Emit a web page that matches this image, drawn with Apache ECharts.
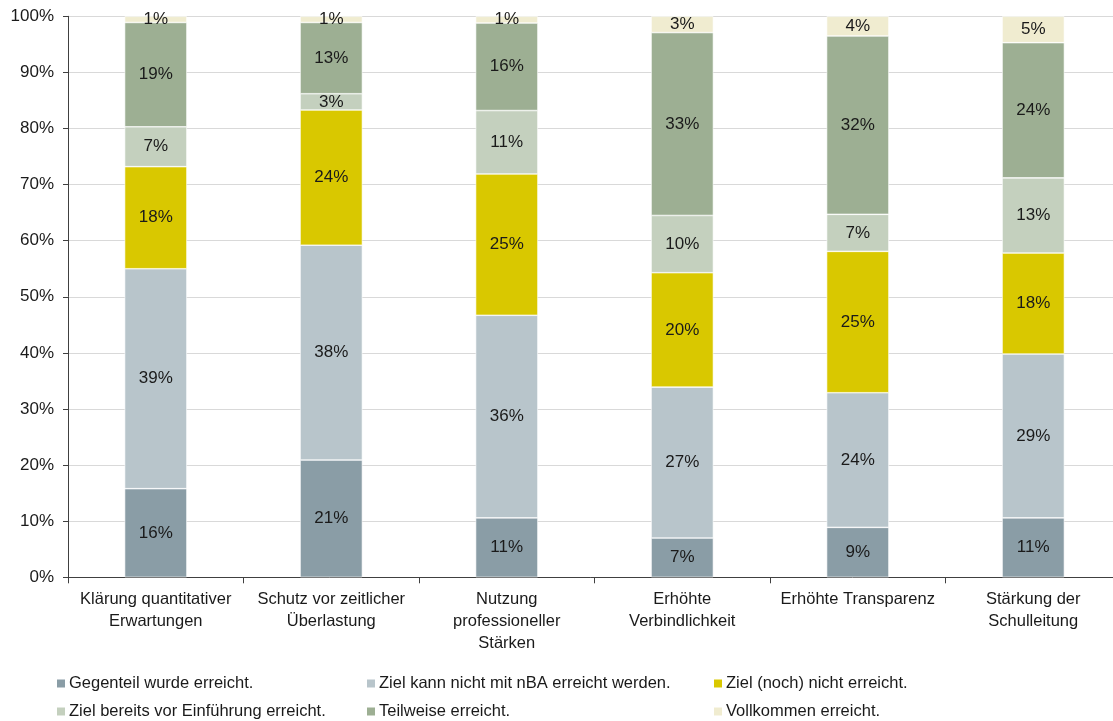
<!DOCTYPE html>
<html>
<head>
<meta charset="utf-8">
<script src="https://cdn.jsdelivr.net/npm/echarts@6/dist/echarts.min.js"></script>
<style>
  html, body { margin: 0; padding: 0; background: #ffffff; }
  #chart { width: 1113px; height: 721px; }
</style>
</head>
<body>
<div id="chart"></div>
<script>
// Goals of the introduction, share of answers per outcome (percent)
const categories = [
  'Klärung quantitativer\nErwartungen',
  'Schutz vor zeitlicher\nÜberlastung',
  'Nutzung\nprofessioneller\nStärken',
  'Erhöhte\nVerbindlichkeit',
  'Erhöhte Transparenz',
  'Stärkung der\nSchulleitung'
];
const seriesNames = [
  'Gegenteil wurde erreicht.',
  'Ziel kann nicht mit nBA erreicht werden.',
  'Ziel (noch) nicht erreicht.',
  'Ziel bereits vor Einführung erreicht.',
  'Teilweise erreicht.',
  'Vollkommen erreicht.'
];
const gegenteil     = [15.8, 20.9, 10.6,  7.0,  8.9, 10.6];
const zielKannNicht = [39.2, 38.3, 36.1, 26.9, 24.0, 29.2];
const nochNicht     = [18.2, 24.1, 25.2, 20.4, 25.2, 18.0];
const bereitsVor    = [ 7.1,  2.9, 11.3, 10.2,  6.6, 13.4];
const teilweise     = [18.6, 12.7, 15.6, 32.6, 31.8, 24.1];
const vollkommen    = [ 1.1,  1.1,  1.2,  2.9,  3.5,  4.7];
const yTicks = [0, 10, 20, 30, 40, 50, 60, 70, 80, 90, 100];

const seriesValues = [gegenteil, zielKannNicht, nochNicht, bereitsVor, teilweise, vollkommen];
const colors = ['#8a9da6', '#b8c5cb', '#d9c800', '#c4d0be', '#9daf93', '#f0ecd0'];

const FONT = '"Liberation Sans", Arial, sans-serif';

const chart = echarts.init(document.getElementById('chart'), null, { renderer: 'canvas' });

const series = seriesNames.map((name, i) => ({
  name: name,
  type: 'bar',
  stack: 'total',
  barWidth: '35.5%',
  data: seriesValues[i],
  itemStyle: { color: colors[i], borderColor: '#ffffff', borderWidth: 0.6 },
  label: {
    show: true,
    position: 'inside',
    color: '#1a1a1a',
    fontFamily: FONT,
    fontSize: 17,
    formatter: p => Math.round(p.value) + '%'
  },
  emphasis: { disabled: true }
}));

// Legend: three columns, two rows
const legendCols = [55, 365, 712];
const legendRows = [675, 703];
const legendOrder = [[0, 3], [1, 4], [2, 5]];
const legends = [];
legendOrder.forEach((pair, c) => {
  pair.forEach((idx, r) => {
    legends.push({
      left: legendCols[c],
      top: legendRows[r],
      padding: 0,
      itemWidth: 10,
      itemHeight: 10,
      itemGap: 4,
      icon: 'rect',
      textStyle: { color: '#1a1a1a', fontFamily: FONT, fontSize: 16.5, padding: [0, 0, 0, -2] },
      selectedMode: false,
      data: [seriesNames[idx]]
    });
  });
});

chart.setOption({
  animation: false,
  backgroundColor: '#ffffff',
  grid: {
    left: 68, top: 16.3, width: 1053, bottom: 143.7,
    containLabel: false,
    outerBoundsMode: 'none'
  },
  legend: legends,
  xAxis: {
    type: 'category',
    data: categories,
    boundaryGap: true,
    axisLine: { lineStyle: { color: '#404040', width: 1 } },
    axisTick: { show: true, length: 6, lineStyle: { color: '#404040' } },
    axisLabel: {
      color: '#1a1a1a',
      fontFamily: FONT,
      fontSize: 16.5,
      lineHeight: 22,
      margin: 11,
      interval: 0
    }
  },
  yAxis: {
    type: 'value',
    min: yTicks[0],
    max: yTicks[yTicks.length - 1],
    interval: yTicks[1] - yTicks[0],
    axisLine: { show: true, lineStyle: { color: '#404040', width: 1 } },
    axisTick: { show: true, length: 5, inside: false, lineStyle: { color: '#404040' } },
    splitLine: { show: true, lineStyle: { color: '#d9d9d9', width: 1 } },
    axisLabel: {
      color: '#1a1a1a',
      fontFamily: FONT,
      fontSize: 17,
      margin: 14,
      formatter: v => v + '%'
    }
  },
  series: series
});
</script>
</body>
</html>
